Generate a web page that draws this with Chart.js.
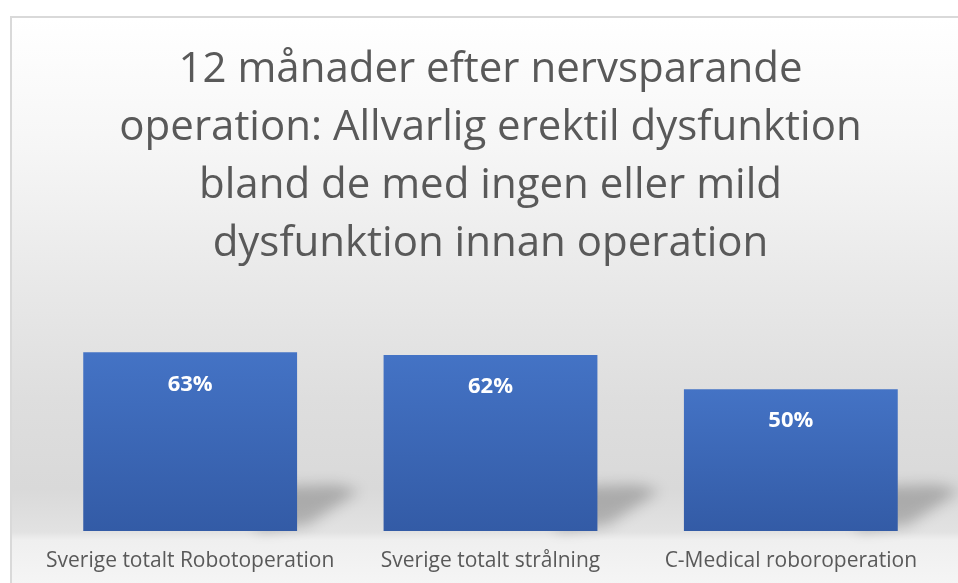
<!DOCTYPE html>
<html>
<head>
<meta charset="utf-8">
<script src="https://cdn.jsdelivr.net/npm/chart.js@4.4.1/dist/chart.umd.min.js"></script>
<style>
  html, body { margin: 0; padding: 0; background: #ffffff; }
  #wrap { position: relative; width: 958px; height: 583px; overflow: hidden; background: #ffffff; }
  #frame {
    position: absolute; left: 10px; top: 16px; width: 960px; height: 580px;
    border-left: 2px solid #d9d9d9; border-top: 2px solid #d9d9d9;
    background: linear-gradient(to bottom, #ffffff 0px, #f6f6f6 130px, #e9e9e9 260px, #dedede 380px, #d9d9d9 470px, #e2e2e2 514px, #efefef 522px, #f5f5f5 567px);
  }
  #c { position: absolute; left: 0; top: 0; }
</style>
</head>
<body>
<div id="wrap">
  <div id="frame"></div>
  <canvas id="c" width="958" height="583"></canvas>
</div>
<script>
const titleLines = [
  "12 månader efter nervsparande",
  "operation: Allvarlig erektil dysfunktion",
  "bland de med ingen eller mild",
  "dysfunktion innan operation"
];
const categories = ["Sverige totalt Robotoperation", "Sverige totalt strålning", "C-Medical roboroperation"];
const values = [63, 62, 50];
const valueLabels = ["63%", "62%", "50%"];

const shadowPlugin = {
  id: 'barShadow',
  beforeDatasetsDraw(chart) {
    const ctx = chart.ctx;
    const meta = chart.getDatasetMeta(0);
    meta.data.forEach(bar => {
      const right = bar.x + bar.width / 2;
      const bottom = bar.base;
      ctx.save();
      ctx.filter = 'blur(7px)';
      ctx.fillStyle = 'rgba(0,0,0,0.22)';
      ctx.beginPath();
      ctx.moveTo(right - 40, bottom - 44);
      ctx.lineTo(right + 40, bottom - 46);
      ctx.lineTo(right + 62, bottom - 40);
      ctx.lineTo(right + 10, bottom - 6);
      ctx.lineTo(right - 40, bottom);
      ctx.closePath();
      ctx.fill();
      ctx.restore();
    });
  }
};

const labelPlugin = {
  id: 'valueLabels',
  afterDatasetsDraw(chart) {
    const ctx = chart.ctx;
    const meta = chart.getDatasetMeta(0);
    ctx.save();
    ctx.fillStyle = '#ffffff';
    ctx.font = 'bold 22px "Open Sans"';
    ctx.textAlign = 'center';
    ctx.textBaseline = 'middle';
    meta.data.forEach((bar, i) => {
      ctx.fillText(valueLabels[i], bar.x, bar.y + 32);
    });
    ctx.restore();
  }
};

function barGradient(context) {
  const chart = context.chart;
  const area = chart.chartArea;
  if (!area || context.dataIndex === undefined) return '#4472c4';
  const ys = chart.scales.y;
  const top = ys.getPixelForValue(values[context.dataIndex]);
  const bottom = ys.getPixelForValue(0);
  const g = chart.ctx.createLinearGradient(0, top, 0, bottom);
  g.addColorStop(0, '#4473c5');
  g.addColorStop(1, '#335ba6');
  return g;
}

new Chart(document.getElementById('c'), {
  type: 'bar',
  data: {
    labels: categories,
    datasets: [{
      data: values,
      backgroundColor: barGradient,
      borderWidth: 0,
      categoryPercentage: 1.0,
      barPercentage: 0.712
    }]
  },
  plugins: [shadowPlugin, labelPlugin],
  options: {
    responsive: false,
    animation: false,
    layout: { padding: { left: 40, right: 17, top: 0, bottom: 0 } },
    plugins: {
      legend: { display: false },
      tooltip: { enabled: false },
      title: {
        display: true,
        text: titleLines,
        color: '#595959',
        font: { family: '"Open Sans"', size: 42, weight: 'normal', lineHeight: 1.381 },
        padding: { top: 41, bottom: 31 }
      }
    },
    scales: {
      x: {
        grid: { display: false },
        border: { display: false },
        afterFit(scale) { scale.height = 52; },
        ticks: {
          color: '#595959',
          font: { family: '"Open Sans"', size: 21 },
          padding: 9,
          maxRotation: 0,
          autoSkip: false
        }
      },
      y: {
        display: false,
        min: 0,
        max: 80
      }
    }
  }
});
</script>
</body>
</html>
